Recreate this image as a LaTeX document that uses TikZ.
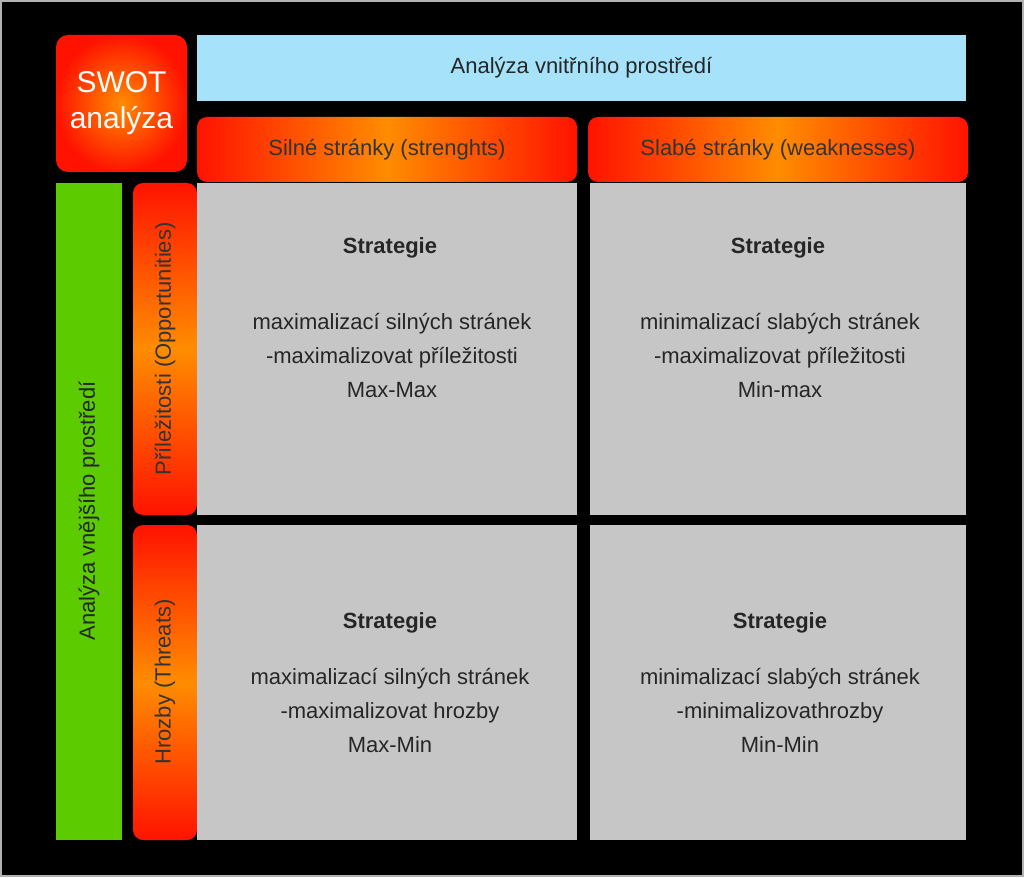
\documentclass[tikz,border=0pt]{standalone}
\usepackage{fontspec}
\setmainfont{Liberation Sans}
\begin{document}
\begin{tikzpicture}[x=1pt,y=-1pt,
  box/.style={anchor=north west,inner sep=0,outer sep=0},
  hstrip/.style={box,rounded corners=10pt,left color=red!85!orange,right color=red!85!orange,middle color=orange!90!yellow,font=\fontsize{22}{26}\selectfont,text=black!80},
  vstrip/.style={box,rounded corners=10pt,top color=red!85!orange,bottom color=red!85!orange,middle color=orange!90!yellow,font=\fontsize{22}{26}\selectfont,text=black!80},
  cell/.style={box,fill=gray!45,font=\fontsize{22}{34}\selectfont,text=black!85,align=center}]
\fill[black] (0,0) rectangle (1024,877);
\draw[gray!60,line width=2pt] (1,1) rectangle (1023,876);
\node[box,rounded corners=12pt,inner color=orange!90!yellow,outer color=red!85!orange,minimum width=131pt,minimum height=137pt,text=white,align=center,font=\fontsize{30}{36}\selectfont] (swot) at (56,35) {SWOT\\analýza};
\node[box,fill=cyan!35,minimum width=769pt,minimum height=66pt,font=\fontsize{22}{26}\selectfont,text=black!85] (vn) at (197,35) {Analýza vnitřního prostředí};
\node[hstrip,minimum width=380pt,minimum height=65pt] (s) at (197,117) {Silné stránky (strenghts)};
\node[hstrip,minimum width=380pt,minimum height=65pt] (w) at (588,117) {Slabé stránky (weaknesses)};
\node[box,fill=green!55!yellow!80!black,minimum width=66pt,minimum height=657pt] (ext) at (56,183) {};
\node[rotate=90,font=\fontsize{22}{26}\selectfont,text=black!85] at (89,511) {Analýza vnějšího prostředí};
\node[vstrip,minimum width=64pt,minimum height=332pt] (o) at (133,183) {};
\node[rotate=90,font=\fontsize{22}{26}\selectfont,text=black!80] at (165,349) {Příležitosti (Opportunities)};
\node[vstrip,minimum width=64pt,minimum height=315pt] (t) at (133,525) {};
\node[rotate=90,font=\fontsize{22}{26}\selectfont,text=black!80] at (165,682) {Hrozby (Threats)};
\node[box,fill=gray!45,minimum width=380pt,minimum height=332pt] (c1) at (197,183) {};
\node[box,fill=gray!45,minimum width=376pt,minimum height=332pt] (c2) at (590,183) {};
\node[box,fill=gray!45,minimum width=380pt,minimum height=315pt] (c3) at (197,525) {};
\node[box,fill=gray!45,minimum width=376pt,minimum height=315pt] (c4) at (590,525) {};
\tikzset{st/.style={font=\bfseries\fontsize{22}{26}\selectfont,text=black!85},
  tx/.style={font=\fontsize{22}{34}\selectfont,text=black!85,align=center,anchor=north}}
\node[st] at (390,248) {Strategie};
\node[tx] at (392,310) {maximalizací silných stránek\\-maximalizovat příležitosti\\Max-Max};
\node[st] at (778,248) {Strategie};
\node[tx] at (780,310) {minimalizací slabých stránek\\-maximalizovat příležitosti\\Min-max};
\node[st] at (390,623) {Strategie};
\node[tx] at (390,665) {maximalizací silných stránek\\-maximalizovat hrozby\\Max-Min};
\node[st] at (780,623) {Strategie};
\node[tx] at (780,665) {minimalizací slabých stránek\\-minimalizovathrozby\\Min-Min};
\end{tikzpicture}
\end{document}
